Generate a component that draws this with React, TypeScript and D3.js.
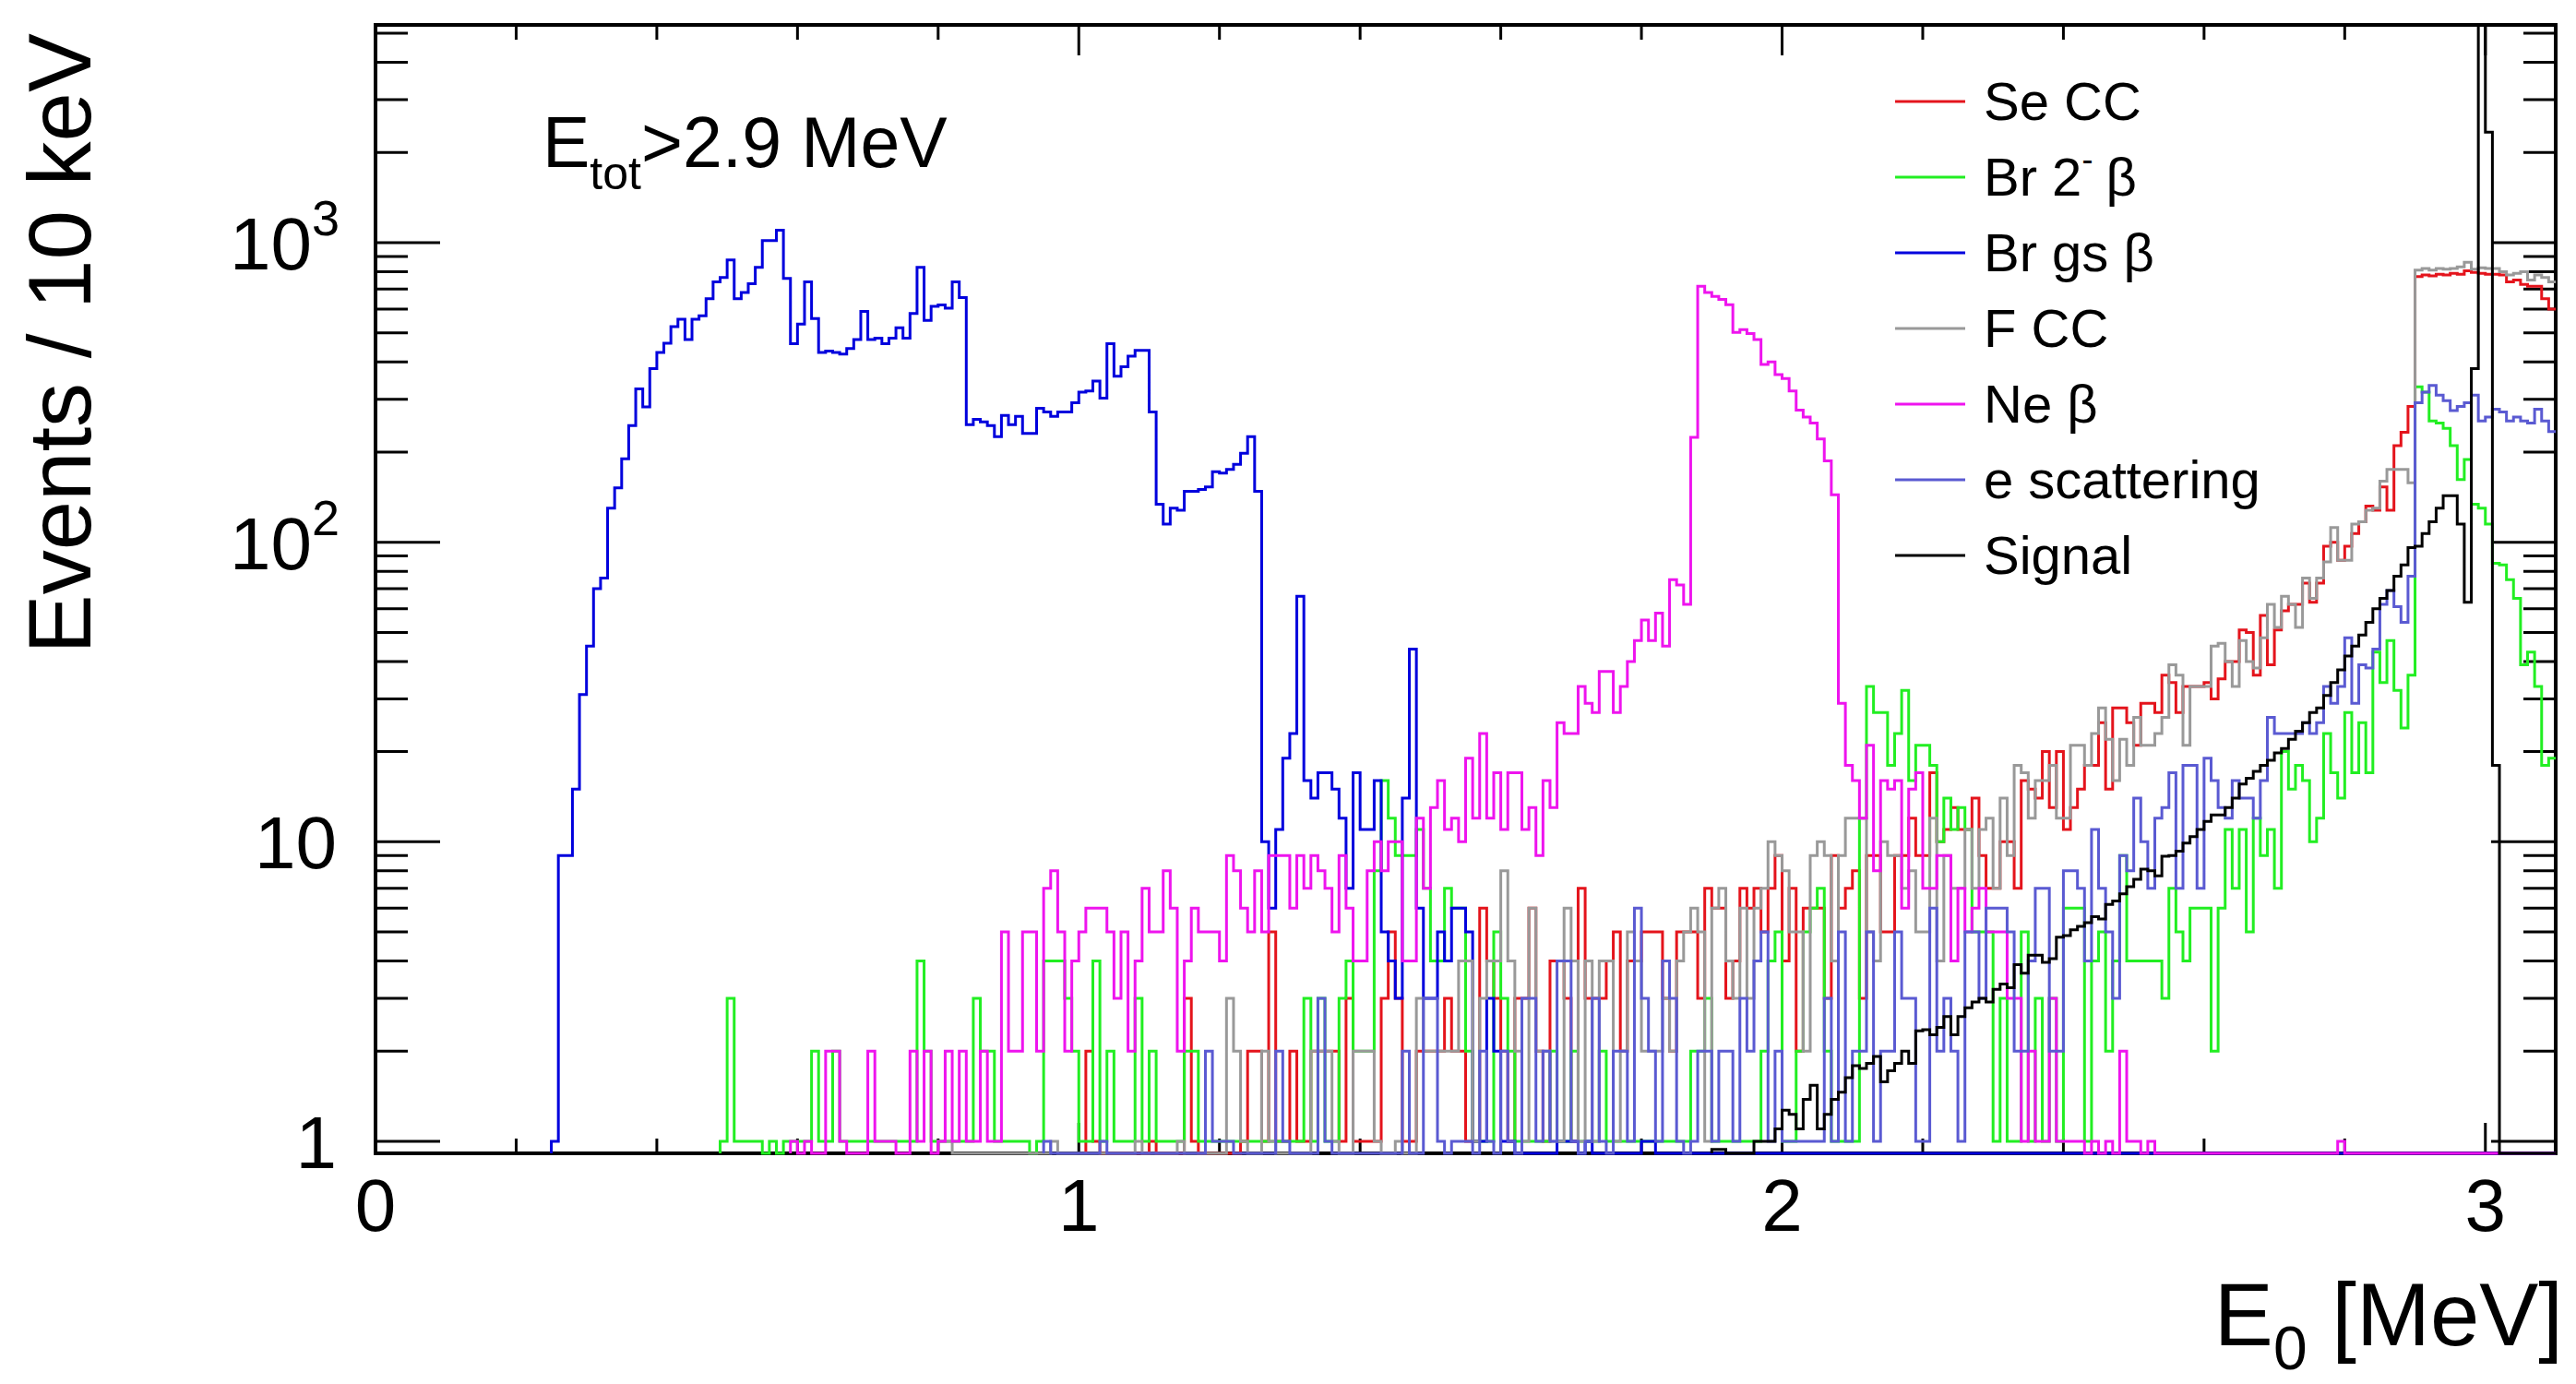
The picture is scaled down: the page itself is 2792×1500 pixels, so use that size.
import React from 'react';
import * as d3 from 'd3';

// ---------------- data (10 keV bins, value per bin; index 0 of each array = bin at *Start) ----------------
const BIN_MEV = 0.01;
const X_MAX = 3.1;
const Y_MIN = 0.912;
const Y_MAX = 5333;

const xTickMajor = [0, 1, 2, 3];
const yTickMajor = [1, 10, 100, 1000];

// Se CC (red)
const seStart = 101;
const seCC = [
  2, 1, 0, 0, 0, 0, 0, 0, 0,
  1, 0, 0, 0, 0, 3, 1, 0, 0, 0,
  0, 0, 0, 1, 2, 2, 1, 5, 1, 1,
  2, 1, 1, 2, 2, 2, 2, 1, 3, 1,
  1, 1, 1, 3, 5, 3, 1, 1, 2, 2,
  2, 2, 3, 2, 2, 1, 1, 6, 4, 3,
  2, 1, 3, 3, 6, 2, 1, 4, 4, 3,
  1, 7, 3, 3, 3, 4, 5, 2, 4, 4,
  5, 5, 5, 3, 2, 5, 5, 5, 3, 7,
  6, 6, 3, 4, 7, 6, 7, 5, 7, 9,
  4, 7, 2, 6, 6, 6, 3, 9, 6, 7,
  8, 3, 9, 9, 5, 5, 9, 9, 12, 9,
  9, 17, 10, 11, 13, 11, 11, 14, 9, 7,
  7, 10, 10, 7, 16, 15, 14, 20, 13, 20,
  11, 13, 15, 18, 18, 25, 15, 28, 28, 25,
  21, 29, 29, 27, 36, 34, 27, 33, 33, 33,
  34, 30, 35, 40, 40, 51, 50, 36, 57, 39,
  51, 59, 62, 62, 73, 63, 73, 97, 100, 87,
  97, 107, 117, 132, 128, 153, 128, 210, 233, 284,
  770, 780, 775, 785, 780, 790, 785, 805, 795, 790,
  785, 785, 780, 740, 750, 725, 715, 715, 650, 600,
];

// Br 2- beta (green)
const br2Start = 49;
const br2Beta = [
  1,
  3, 1, 1, 1, 1, 0, 1, 0, 1, 1,
  1, 1, 2, 1, 1, 2, 1, 1, 1, 1,
  1, 1, 1, 1, 1, 1, 1, 4, 2, 1,
  1, 1, 1, 1, 1, 3, 2, 2, 1, 1,
  1, 1, 1, 0, 1, 4, 4, 4, 3, 2,
  1, 1, 4, 1, 2, 1, 1, 1, 3, 1,
  2, 1, 1, 1, 1, 2, 2, 1, 1, 1,
  1, 1, 1, 1, 1, 1, 1, 1, 1, 1,
  1, 1, 3, 1, 3, 1, 1, 3, 4, 2,
  2, 2, 8, 16, 12, 9, 9, 9, 11, 7,
  4, 4, 7, 6, 6, 2, 1, 1, 1, 5,
  3, 2, 1, 1, 1, 1, 1, 2, 1, 1,
  2, 1, 1, 1, 2, 1, 1, 1, 1, 1,
  1, 1, 1, 1, 1, 1, 1, 2, 2, 3,
  1, 1, 1, 1, 1, 1, 1, 2, 4, 5,
  1, 1, 2, 5, 6, 7, 2, 1, 1, 1,
  1, 12, 33, 27, 27, 18, 23, 32, 16, 21,
  21, 18, 10, 14, 11, 13, 11, 5, 5, 5,
  1, 3, 1, 1, 5, 1, 3, 1, 3, 1,
  6, 6, 6, 1, 4, 5, 2, 4, 9, 4,
  4, 4, 4, 4, 3, 7, 5, 4, 6, 6,
  6, 2, 6, 11, 7, 11, 5, 12, 9, 11,
  7, 20, 15, 18, 16, 10, 12, 23, 17, 14,
  27, 17, 25, 17, 43, 34, 47, 32, 24, 36,
  330, 317, 254, 250, 240, 210, 162, 189, 134, 130,
  115, 85, 84, 75, 65, 39, 43, 33, 18, 19,
];

// Br gs beta (blue)
const brGsStart = 25;
const brGsBeta = [
  1, 9, 9, 15, 31,
  45, 70, 76, 130, 152, 190, 245, 325, 283, 380,
  430, 462, 525, 555, 475, 555, 570, 650, 740, 765,
  875, 650, 682, 730, 828, 1016, 1016, 1100, 760, 460,
  535, 740, 558, 430, 435, 430, 425, 443, 475, 590,
  475, 480, 460, 480, 520, 480, 580, 828, 550, 613,
  620, 605, 740, 656, 247, 257, 252, 245, 225, 265,
  247, 263, 231, 231, 280, 272, 263, 272, 272, 292,
  317, 320, 345, 303, 460, 358, 385, 418, 437, 437,
  272, 134, 115, 130, 128, 148, 148, 150, 153, 172,
  170, 175, 182, 198, 225, 148, 10, 6, 11, 19,
  23, 66, 16, 14, 17, 17, 15, 12, 7, 17,
  11, 11, 16, 5, 4, 3, 14, 44, 6, 3,
  3, 5, 4, 6, 6, 5, 1, 1, 3, 2,
  1, 1, 0, 0, 0, 0, 0, 0, 1, 1,
  1, 0, 1, 0, 0, 0, 0, 0, 0, 0, 1, 1,
];

// F CC (grey)
const fStart = 80;
const fCC = [
  1, 1, 0, 0, 0, 0, 0, 0, 0, 0,
  0, 0, 0, 0, 0, 0, 1, 0, 0, 0,
  0, 0, 0, 0, 0, 0, 0, 0, 1, 0,
  0, 0, 0, 0, 1, 0, 0, 0, 0, 0,
  0, 3, 2, 1, 0, 0, 2, 1, 0, 0,
  0, 0, 0, 2, 2, 2, 1, 0, 0, 2,
  2, 2, 1, 0, 0, 1, 0, 0, 3, 2,
  2, 2, 2, 2, 4, 4, 1, 3, 4, 4,
  8, 4, 2, 1, 6, 2, 2, 1, 1, 6,
  4, 1, 4, 1, 4, 4, 1, 2, 5, 4,
  2, 2, 2, 3, 2, 4, 5, 6, 5, 1,
  6, 7, 4, 3, 6, 3, 6, 7, 10, 9,
  8, 5, 5, 2, 9, 10, 9, 4, 9, 12,
  12, 12, 5, 4, 10, 9, 9, 7, 8, 5,
  5, 12, 4, 9, 7, 7, 11, 7, 11, 12,
  7, 14, 9, 18, 17, 12, 16, 16, 18, 12,
  12, 21, 21, 18, 23, 28, 22, 16, 22, 18,
  26, 21, 21, 23, 26, 39, 36, 21, 33, 33,
  33, 45, 46, 40, 33, 47, 40, 38, 48, 62,
  52, 66, 62, 52, 76, 65, 76, 86, 112, 87,
  87, 115, 117, 128, 130, 160, 175, 175, 175, 158,
  810, 820, 810, 820, 815, 820, 830, 860, 815, 825,
  820, 820, 800, 780, 790, 800, 750, 780, 765, 740,
];

// Ne beta (magenta)
const neStart = 59;
const neBeta = [
  1, 0, 1, 0, 0, 2, 2, 1, 0, 0, 0,
  2, 1, 1, 1, 0, 0, 2, 1, 2, 0,
  1, 2, 1, 2, 1, 1, 2, 1, 1, 5,
  2, 2, 5, 5, 2, 7, 8, 5, 2, 4,
  5, 6, 6, 6, 5, 3, 5, 2, 4, 7,
  5, 5, 8, 6, 2, 4, 6, 5, 5, 5,
  4, 9, 8, 6, 5, 8, 5, 9, 9, 9,
  6, 9, 7, 9, 8, 7, 5, 9, 6, 4,
  4, 8, 10, 8, 10, 10, 4, 4, 12, 7,
  13, 16, 11, 12, 10, 19, 12, 23, 12, 17,
  11, 17, 17, 11, 13, 9, 16, 13, 25, 23,
  23, 33, 29, 27, 37, 37, 27, 33, 40, 47,
  55, 47, 58, 45, 75, 72, 62, 224, 716, 682,
  662, 647, 621, 502, 513, 497, 475, 392, 400, 363,
  352, 320, 276, 262, 250, 221, 187, 144, 29, 18,
  16, 12, 21, 8, 16, 15, 16, 6, 15, 17,
  7, 7, 9, 9, 4, 7, 5, 6, 7, 5,
  5, 5, 3, 3, 1, 2, 1, 1, 3, 1,
  1, 1, 1, 0, 1, 0, 1, 0, 2, 1,
  1, 0, 1, 0, 0, 0, 0, 0, 0, 0,
  0, 0, 0, 0, 0, 0, 0, 0, 0, 0,
  0, 0, 0, 0, 0, 0, 0, 0, 0, 1, 0,
];

// e scattering (slate blue)
const eStart = 95;
const eScattering = [
  1, 0, 0, 0, 0,
  0, 0, 0, 1, 0, 0, 0, 0, 0, 0,
  0, 0, 0, 0, 0, 0, 0, 0, 2, 1,
  1, 1, 0, 0, 0, 0, 0, 0, 2, 1,
  0, 0, 0, 0, 3, 1, 0, 0, 0, 0,
  0, 0, 0, 0, 0, 0, 2, 0, 0, 3,
  3, 1, 0, 1, 1, 1, 0, 2, 1, 0,
  2, 1, 0, 3, 3, 1, 2, 1, 4, 4,
  1, 0, 1, 3, 1, 0, 2, 2, 1, 6,
  3, 2, 1, 4, 3, 1, 0, 1, 2, 2,
  1, 2, 2, 1, 3, 2, 4, 5, 1, 2,
  1, 1, 1, 1, 1, 1, 3, 1, 5, 1,
  2, 2, 5, 1, 2, 2, 5, 3, 3, 1,
  1, 6, 2, 3, 2, 1, 5, 5, 3, 6,
  6, 6, 5, 2, 2, 4, 7, 7, 2, 2,
  8, 8, 7, 4, 11, 7, 5, 3, 9, 8,
  14, 10, 7, 12, 13, 17, 7, 18, 18, 7,
  19, 16, 13, 12, 16, 14, 14, 12, 16, 26,
  23, 23, 23, 23, 25, 23, 25, 33, 29, 33,
  48, 29, 39, 38, 44, 62, 69, 61, 54, 77,
  292, 317, 334, 310, 297, 275, 284, 292, 310, 254,
  262, 278, 272, 254, 262, 254, 250, 278, 254, 234,
];

// Signal (black)
const sigStart = 190;
const signal = [
  0.94, 0.94, 0, 0, 0, 0, 1.0, 1.0, 1.0, 1.1,
  1.27, 1.23, 1.1, 1.38, 1.54, 1.1, 1.23, 1.38, 1.46, 1.63,
  1.79, 1.75, 1.82, 1.92, 1.58, 1.72, 1.82, 2.0, 1.82, 2.34,
  2.36, 2.27, 2.4, 2.61, 2.27, 2.61, 2.79, 2.92, 3.0, 2.92,
  3.22, 3.35, 3.26, 3.89, 3.64, 4.18, 4.18, 3.96, 4.07, 4.8,
  4.86, 5.08, 5.22, 5.37, 5.62, 5.53, 6.18, 6.35, 6.7, 7.08,
  7.5, 8.1, 8.0, 7.7, 8.95, 9.0, 9.3, 9.9, 10.4, 11,
  11.7, 12.3, 12.3, 13, 14, 15.6, 16.3, 17.2, 18, 18.7,
  19.8, 20.5, 22, 23.4, 25, 27, 28, 30.8, 34, 37.5,
  41.7, 45, 49, 54, 60, 65, 69, 77, 84, 96,
  97, 107, 117, 130, 143, 143, 115, 63, 380, 20000,
  2340, 18,
];

const seriesNames = ['Se CC', 'Br 2- β', 'Br gs β', 'F CC', 'Ne β', 'e scattering', 'Signal'];
const seriesColors = ['#e4141c', '#22ee22', '#0000dd', '#999999', '#ee14ee', '#5a5ad2', '#000000'];
const seriesStarts = [seStart, br2Start, brGsStart, fStart, neStart, eStart, sigStart];
const seriesValues = [seCC, br2Beta, brGsBeta, fCC, neBeta, eScattering, signal];

// ---------------- layout ----------------
const W = 2792;
const H = 1500;
const L = 407, R = 2770, T = 27, B = 1250;
const FONT = '"Liberation Sans", Arial, Helvetica, sans-serif';

const x = d3.scaleLinear().domain([0, X_MAX]).range([L, R]);
const y = d3.scaleLog().domain([Y_MIN, Y_MAX]).range([B, T]);

const yv = (v: number) => y(Math.min(Math.max(v, Y_MIN), Y_MAX * 1.05));

const stepLine = d3
  .line<[number, number]>()
  .x((d) => d[0])
  .y((d) => d[1])
  .curve(d3.curveStepAfter);

function histPath(start: number, values: number[]): string {
  const pts: [number, number][] = [];
  pts.push([x(start * BIN_MEV), B]);
  values.forEach((v, i) => {
    pts.push([x((start + i) * BIN_MEV), yv(v)]);
  });
  const endE = (start + values.length) * BIN_MEV;
  pts.push([x(endE), yv(values[values.length - 1])]);
  if (endE < X_MAX - 1e-9) {
    pts.push([x(endE), B]);
    pts.push([x(X_MAX), B]);
  }
  return stepLine(pts) || '';
}

export default function App() {
  // x ticks
  const xMinor: number[] = [];
  for (let k = 1; k <= 15; k++) {
    const v = +(k * 0.2).toFixed(2);
    if (v <= X_MAX && Math.abs(v - Math.round(v)) > 1e-6) xMinor.push(v);
  }
  // y minor ticks
  const yMinor: number[] = [];
  for (let dec = 1; dec <= 1000; dec *= 10) {
    for (let m = 2; m <= 9; m++) {
      const v = m * dec;
      if (v < Y_MAX) yMinor.push(v);
    }
  }

  const legendRowY = (i: number) => 110 + 82 * i;

  const renderLegendLabel = (i: number, tx: number, ty: number) => {
    const common = { fontFamily: FONT, fontSize: 58, fill: '#000' } as const;
    if (i === 1) {
      return (
        <text x={tx} y={ty} {...common}>
          Br 2
          <tspan fontSize={36} dy={-27}>-</tspan>
          <tspan dy={27} dx={14}>β</tspan>
        </text>
      );
    }
    return (
      <text x={tx} y={ty} {...common}>
        {seriesNames[i]}
      </text>
    );
  };

  return (
    <svg
      width={W}
      height={H}
      viewBox={`0 0 ${W} ${H}`}
      style={{ position: 'absolute', left: 0, top: 0, background: '#fff' }}
    >
      <defs>
        <clipPath id="plotClip">
          <rect x={L} y={T} width={R - L} height={B - T + 2} />
        </clipPath>
      </defs>
      <rect x={0} y={0} width={W} height={H} fill="#fff" />

      {/* frame */}
      <rect x={L} y={T} width={R - L} height={B - T} fill="none" stroke="#000" strokeWidth={4} />

      {/* x ticks (bottom and top) */}
      {xTickMajor.map((v) => (
        <g key={`xM${v}`}>
          <line x1={x(v)} x2={x(v)} y1={B} y2={B - 33} stroke="#000" strokeWidth={3} />
          <line x1={x(v)} x2={x(v)} y1={T} y2={T + 33} stroke="#000" strokeWidth={3} />
        </g>
      ))}
      {xMinor.map((v) => (
        <g key={`xm${v}`}>
          <line x1={x(v)} x2={x(v)} y1={B} y2={B - 16} stroke="#000" strokeWidth={3} />
          <line x1={x(v)} x2={x(v)} y1={T} y2={T + 16} stroke="#000" strokeWidth={3} />
        </g>
      ))}

      {/* y ticks (left and right) */}
      {yTickMajor.map((v) => (
        <g key={`yM${v}`}>
          <line x1={L} x2={L + 70} y1={y(v)} y2={y(v)} stroke="#000" strokeWidth={3} />
          <line x1={R} x2={R - 70} y1={y(v)} y2={y(v)} stroke="#000" strokeWidth={3} />
        </g>
      ))}
      {yMinor.map((v) => (
        <g key={`ym${v}`}>
          <line x1={L} x2={L + 35} y1={y(v)} y2={y(v)} stroke="#000" strokeWidth={3} />
          <line x1={R} x2={R - 35} y1={y(v)} y2={y(v)} stroke="#000" strokeWidth={3} />
        </g>
      ))}

      {/* histograms */}
      <g clipPath="url(#plotClip)">
        {seriesValues.map((vals, i) => (
          <path
            key={seriesNames[i]}
            d={histPath(seriesStarts[i], vals)}
            fill="none"
            stroke={seriesColors[i]}
            strokeWidth={3}
            strokeLinejoin="miter"
          />
        ))}
      </g>

      {/* x tick labels */}
      {xTickMajor.map((v) => (
        <text
          key={`xl${v}`}
          x={x(v)}
          y={1334}
          textAnchor="middle"
          fontFamily={FONT}
          fontSize={80}
          fill="#000"
        >
          {String(v)}
        </text>
      ))}

      {/* y tick labels */}
      {yTickMajor.map((v) => {
        const exp = Math.round(Math.log10(v));
        const by = y(v) + 29;
        if (exp <= 1) {
          return (
            <text key={`yl${v}`} x={365} y={by} textAnchor="end" fontFamily={FONT} fontSize={80} fill="#000">
              {String(v)}
            </text>
          );
        }
        return (
          <text key={`yl${v}`} x={368} y={by} textAnchor="end" fontFamily={FONT} fontSize={80} fill="#000">
            10
            <tspan fontSize={54} dy={-37}>{String(exp)}</tspan>
          </text>
        );
      })}

      {/* axis titles */}
      <text
        transform={`translate(98, 36) rotate(-90)`}
        textAnchor="end"
        fontFamily={FONT}
        fontSize={96}
        fill="#000"
      >
        Events / 10 keV
      </text>
      <text x={2778} y={1458} textAnchor="end" fontFamily={FONT} fontSize={96} fill="#000">
        E
        <tspan fontSize={66} dy={26}>0</tspan>
        <tspan dy={-26}> [MeV]</tspan>
      </text>

      {/* cut label */}
      <text x={588} y={181} fontFamily={FONT} fontSize={77} fill="#000">
        E
        <tspan fontSize={50} dy={24}>tot</tspan>
        <tspan dy={-24}>&gt;2.9 MeV</tspan>
      </text>

      {/* legend */}
      {seriesNames.map((name, i) => (
        <g key={`lg${name}`}>
          <line
            x1={2054}
            x2={2130}
            y1={legendRowY(i)}
            y2={legendRowY(i)}
            stroke={seriesColors[i]}
            strokeWidth={3}
          />
          {renderLegendLabel(i, 2150, legendRowY(i) + 20)}
        </g>
      ))}
    </svg>
  );
}
